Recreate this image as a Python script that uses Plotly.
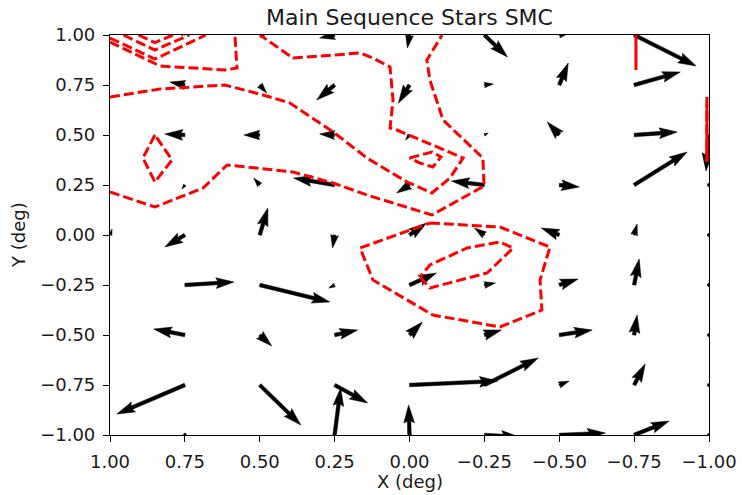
import numpy as np
import plotly.graph_objects as go

# ---------------- data ----------------
x_grid = [1.0, 0.75, 0.5, 0.25, 0.0, -0.25, -0.5, -0.75, -1.0]
y_grid = [1.0, 0.75, 0.5, 0.25, 0.0, -0.25, -0.5, -0.75, -1.0]

# vector components (data units), rows follow y_grid, columns follow x_grid
U = [
    [None, 0.010, -0.033, 0.050, 0.007, -0.077, -0.033, -0.207, None],
    [None, 0.050, -0.023, 0.060, 0.037, -0.030, -0.030, -0.154, None],
    [None, 0.067, 0.053, 0.050, 0.013, -0.013, 0.040, -0.144, 0.010],
    [None, 0.010, 0.020, 0.137, 0.043, 0.110, -0.067, -0.177, 0.000],
    [-0.007, 0.067, -0.027, 0.007, -0.057, 0.033, 0.060, -0.010, 0.002],
    [None, -0.164, -0.234, 0.020, -0.090, -0.037, -0.063, -0.017, 0.000],
    [None, 0.104, -0.040, -0.077, -0.043, -0.057, -0.110, -0.010, 0.000],
    [None, 0.227, -0.137, -0.110, -0.294, -0.180, -0.033, -0.037, 0.000],
    [None, -0.003, None, -0.020, 0.003, -0.117, -0.154, -0.117, 0.000],
]
V = [
    [None, 0.050, 0.015, -0.015, -0.065, -0.110, 0.010, -0.155, None],
    [None, 0.015, -0.040, -0.075, -0.090, 0.005, 0.110, 0.065, None],
    [None, 0.005, 0.000, 0.005, -0.025, 0.010, 0.065, 0.015, -0.180],
    [None, -0.020, 0.035, 0.035, -0.040, 0.020, -0.010, 0.165, 0.010],
    [0.030, -0.060, 0.135, -0.065, 0.060, 0.035, 0.035, 0.055, 0.000],
    [None, 0.015, -0.085, -0.015, 0.060, 0.010, 0.030, 0.130, 0.002],
    [None, 0.030, -0.055, 0.025, 0.065, 0.025, 0.025, 0.100, 0.000],
    [None, -0.145, -0.200, -0.090, 0.020, 0.135, 0.020, 0.105, 0.000],
    [None, 0.005, None, 0.235, 0.150, -0.010, 0.010, 0.070, 0.000],
]

# contour lines (data coordinates)
c1_x = [1.0, 0.833, 0.616, 0.489, 0.399, 0.255, 0.142, 0.008, -0.075, -0.135, -0.179,
        -0.078, 0.042, 0.065, 0.055, 0.065, 0.122, 0.165, 0.389, 0.499]
c1_y = [0.69, 0.73, 0.75, 0.70, 0.66, 0.515, 0.385, 0.265, 0.21, 0.285, 0.385,
        0.45, 0.525, 0.535, 0.675, 0.84, 0.885, 0.91, 0.885, 1.0]
c2_x = [1.0, 0.85, 0.689, 0.609, 0.389, 0.255, 0.142, 0.032, -0.075, -0.249, -0.245,
        -0.112, -0.068, -0.058, -0.109]
c2_y = [0.215, 0.14, 0.235, 0.35, 0.315, 0.26, 0.20, 0.15, 0.10, 0.245, 0.385,
        0.575, 0.775, 0.875, 1.0]
c3_x = [0.0, -0.075, -0.105, -0.078, -0.035, 0.0]
c3_y = [0.385, 0.415, 0.39, 0.34, 0.36, 0.385]
c4_x = [0.85, 0.89, 0.85, 0.793, 0.85]
c4_y = [0.5, 0.385, 0.265, 0.375, 0.5]
c5_x = [1.0, 0.833, 0.616, 0.576, 0.583]
c5_y = [0.965, 0.845, 0.825, 0.835, 1.0]
c6_x = [1.0, 0.85, 0.68]
c6_y = [0.985, 0.88, 1.0]
c7_x = [0.955, 0.85, 0.735]
c7_y = [1.0, 0.925, 1.0]
c8_x = [0.905, 0.85, 0.79]
c8_y = [1.0, 0.962, 1.0]
c9_x = [-0.068, -0.302, -0.469, -0.436, -0.442, -0.302, -0.078, 0.122, 0.165, -0.068]
c9_y = [0.06, 0.04, -0.06, -0.225, -0.375, -0.46, -0.40, -0.225, -0.065, 0.06]
c10_x = [-0.035, -0.068, -0.259, -0.346, -0.302, -0.192, -0.068, -0.035]
c10_y = [-0.21, -0.265, -0.19, -0.065, -0.035, -0.065, -0.15, -0.21]
c11_x = [-0.993, -0.993]
c11_y = [0.69, 0.365]
s1_x = [-0.756, -0.756]
s1_y = [1.0, 0.825]
s2_x = [-0.993, -0.993]
s2_y = [0.655, 0.365]

dashed = [(c1_x, c1_y), (c2_x, c2_y), (c3_x, c3_y), (c4_x, c4_y), (c5_x, c5_y),
          (c6_x, c6_y), (c7_x, c7_y), (c8_x, c8_y), (c9_x, c9_y), (c10_x, c10_y),
          (c11_x, c11_y)]
solid = [(s1_x, s1_y), (s2_x, s2_y)]

tick_vals = [1.0, 0.75, 0.5, 0.25, 0.0, -0.25, -0.5, -0.75, -1.0]
tick_text = ["1.00", "0.75", "0.50", "0.25", "0.00", "\u22120.25", "\u22120.50", "\u22120.75", "\u22121.00"]

# ---------------- layout geometry ----------------
W_PX, H_PX = 742, 495
ML, MR, MT, MB = 110, 33, 35, 60
PW = W_PX - ML - MR
PH = H_PX - MT - MB
SX = PW / 2.0   # px per data unit (x)
SY = PH / 2.0   # px per data unit (y)

# matplotlib-like quiver arrow geometry
SHAFT = 0.006 * PW
HEADW, HEADL, HEADAX, MINSHAFT, MINLEN = 3.0, 5.0, 4.5, 1.0, 1.0


def arrow_polygon(x0, y0, u, v):
    dpx = -u * SX          # screen right (x axis reversed)
    dpy = v * SY           # screen up
    L = np.hypot(dpx, dpy) / SHAFT
    ang = np.arctan2(dpy, dpx)
    minsh = MINSHAFT * HEADL
    if L < MINLEN:
        th = np.arange(8) * np.pi / 3.0
        X = np.cos(th) * MINLEN * 0.5
        Y = np.sin(th) * MINLEN * 0.5
    elif L < minsh:
        s = L / minsh
        X = s * np.array([0, minsh - HEADAX, minsh - HEADL, minsh,
                          minsh - HEADL, minsh - HEADAX, 0, 0])
        Y = s * 0.5 * np.array([1, 1, HEADW, 0, -HEADW, -1, -1, 1])
    else:
        X = np.array([0, L - HEADAX, L - HEADL, L, L - HEADL, L - HEADAX, 0, 0])
        Y = 0.5 * np.array([1, 1, HEADW, 0, -HEADW, -1, -1, 1])
    c, s_ = np.cos(ang), np.sin(ang)
    px = (X * c - Y * s_) * SHAFT
    py = (X * s_ + Y * c) * SHAFT
    return list(x0 - px / SX), list(y0 + py / SY)


ax_all, ay_all = [], []
for i, yv in enumerate(y_grid):
    for j, xv in enumerate(x_grid):
        u, v = U[i][j], V[i][j]
        if u is None or v is None:
            continue
        xs, ys = arrow_polygon(xv, yv, u, v)
        ax_all += xs + [None]
        ay_all += ys + [None]

fig = go.Figure()
fig.add_trace(go.Scatter(x=ax_all, y=ay_all, mode="lines", fill="toself",
                         fillcolor="black", line=dict(color="black", width=0.5),
                         hoverinfo="skip", showlegend=False))

for cx, cy in dashed:
    fig.add_trace(go.Scatter(x=cx, y=cy, mode="lines",
                             line=dict(color="#ff0000", width=3, dash="10px,4px"),
                             showlegend=False, hoverinfo="skip"))
for cx, cy in solid:
    fig.add_trace(go.Scatter(x=cx, y=cy, mode="lines",
                             line=dict(color="#ff0000", width=3),
                             showlegend=False, hoverinfo="skip"))

font = "DejaVu Sans"
axis_common = dict(showgrid=False, zeroline=False, showline=True, linecolor="black",
                   linewidth=1.2, mirror=True, ticks="outside", ticklen=6, tickwidth=1.2,
                   tickcolor="black", tickvals=tick_vals, ticktext=tick_text,
                   automargin=False,
                   tickfont=dict(family=font, size=18, color="#1a1a1a"))

fig.update_layout(
    width=W_PX, height=H_PX,
    margin=dict(l=ML, r=MR, t=MT, b=MB, autoexpand=False),
    paper_bgcolor="white", plot_bgcolor="white",
    title=dict(text="Main Sequence Stars SMC", x=(ML + PW / 2.0) / W_PX, xanchor="center",
               y=1 - 17 / H_PX, yanchor="middle", yref="container",
               font=dict(family=font, size=22, color="#1a1a1a")),
    xaxis=dict(range=[1.0, -1.0], ticklabelstandoff=4, **axis_common),
    yaxis=dict(range=[-1.0, 1.0], ticklabelstandoff=4, **axis_common),
    annotations=[
        dict(text="X (deg)", x=0.5, y=0, xref="paper", yref="paper", showarrow=False,
             xanchor="center", yanchor="middle", yshift=-46,
             font=dict(family=font, size=18, color="#1a1a1a")),
        dict(text="Y (deg)", x=0, y=0.5, xref="paper", yref="paper", showarrow=False,
             xanchor="center", yanchor="middle", xshift=-92, textangle=-90,
             font=dict(family=font, size=18, color="#1a1a1a")),
    ],
)

fig.write_html("out.html")
